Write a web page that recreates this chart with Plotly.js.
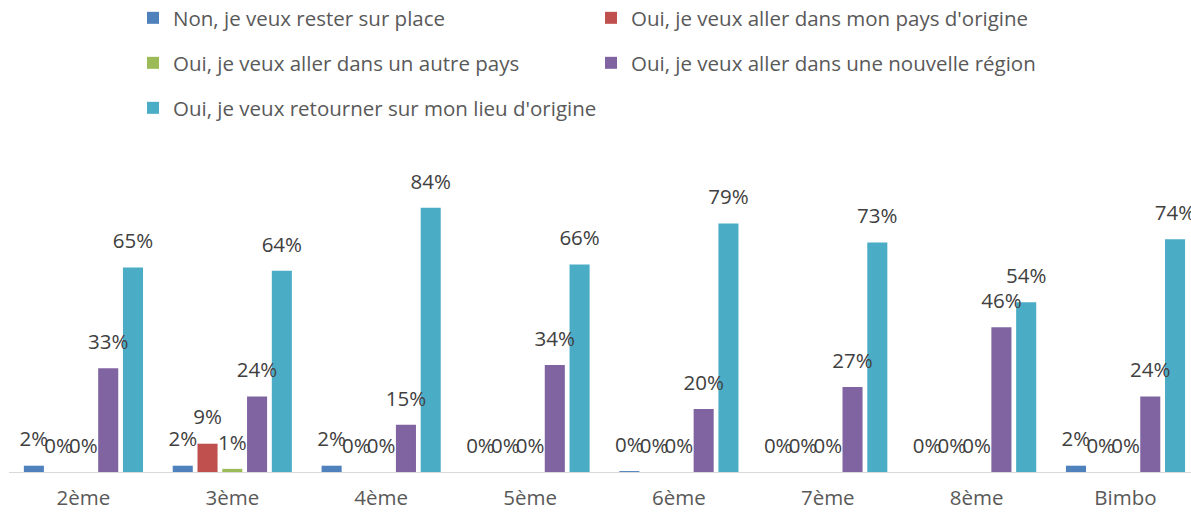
<!DOCTYPE html>
<html>
<head>
<meta charset="utf-8">
<script src="https://cdn.plot.ly/plotly-3.0.1.min.js"></script>
<style>html,body{margin:0;padding:0;background:#fff;}#chart{width:1191px;height:514px;}</style>
</head>
<body>
<div id="chart"></div>
<script>
const categories = ['2ème', '3ème', '4ème', '5ème', '6ème', '7ème', '8ème', 'Bimbo'];
const seriesNames = [
  'Non, je veux rester sur place',
  "Oui, je veux aller dans mon pays d'origine",
  'Oui, je veux aller dans un autre pays',
  'Oui, je veux aller dans une nouvelle région',
  "Oui, je veux retourner sur mon lieu d'origine"
];
const resterSurPlace   = [2, 2, 2, 0, 0.3, 0, 0, 2];
const paysOrigine      = [0, 9, 0, 0, 0, 0, 0, 0];
const autrePays        = [0, 1, 0, 0, 0, 0, 0, 0];
const nouvelleRegion   = [33, 24, 15, 34, 20, 27, 46, 24];
const lieuOrigine      = [65, 64, 84, 66, 79, 73, 54, 74];
const colors = ['#4F81BD', '#C0504D', '#9BBB59', '#8064A2', '#4BACC6'];
const legendIds = ['legend', 'legend', 'legend2', 'legend2', 'legend3'];

const allSeries = [resterSurPlace, paysOrigine, autrePays, nouvelleRegion, lieuOrigine];
const traces = [];
allSeries.forEach((vals, i) => {
  traces.push({
    type: 'bar', x: categories, y: vals, name: seriesNames[i],
    marker: {color: colors[i]}, legend: legendIds[i],
    offsetgroup: 'g' + i, hoverinfo: 'skip'
  });
});
allSeries.forEach((vals, i) => {
  traces.push({
    type: 'scatter', mode: 'markers+text', x: categories, y: vals,
    orientation: 'v', offsetgroup: 'g' + i, showlegend: false,
    marker: {size: 21, color: 'rgba(0,0,0,0)'},
    texttemplate: '%{y:.0f}%', textposition: 'top center',
    textfont: {family: 'Open Sans', size: 20.5, color: '#404040'},
    cliponaxis: false, hoverinfo: 'skip'
  });
});

const legendBase = {
  orientation: 'h', xref: 'container', yref: 'container', xanchor: 'left', yanchor: 'middle',
  x: 133 / 1191,
  font: {family: 'Open Sans', size: 20.5, color: '#595959'}, bgcolor: 'rgba(0,0,0,0)'
};

const layout = {
  width: 1191, height: 514,
  margin: {l: 9, r: 0, t: 189, b: 42},
  paper_bgcolor: '#ffffff', plot_bgcolor: '#ffffff',
  barmode: 'group', bargap: 0.168, bargroupgap: 0.19,
  scattermode: 'group', scattergap: 0.168,
  xaxis: {
    type: 'category', range: [-0.5, 7.44], showline: true, linecolor: '#d9d9d9', linewidth: 1,
    ticks: '', showgrid: false, zeroline: false, ticklabelstandoff: 7,
    tickfont: {family: 'Open Sans', size: 20.5, color: '#595959'}
  },
  yaxis: {range: [0, 90], visible: false, showgrid: false, zeroline: false},
  legend: Object.assign({}, legendBase, {y: 1 - 18 / 514, entrywidth: 413, entrywidthmode: 'pixels'}),
  legend2: Object.assign({}, legendBase, {y: 1 - 63 / 514, entrywidth: 413, entrywidthmode: 'pixels'}),
  legend3: Object.assign({}, legendBase, {y: 1 - 108 / 514}),
  showlegend: true
};

Plotly.newPlot('chart', traces, layout, {displayModeBar: false, staticPlot: true});
</script>
</body>
</html>
